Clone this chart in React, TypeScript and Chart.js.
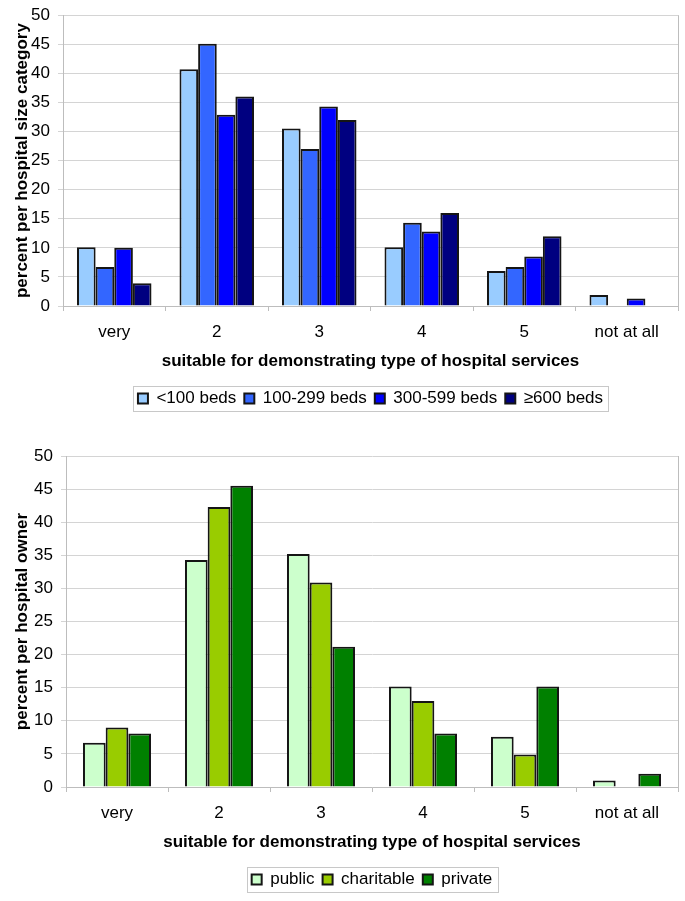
import React, { useEffect, useRef } from "react";
import { Chart, registerables } from "chart.js";

Chart.register(...registerables);

const categories = ["very", "2", "3", "4", "5", "not at all"];

const sizeLabels = ["<100 beds", "100-299 beds", "300-599 beds", "≥600 beds"];
const sizeLt100 = [10.1, 40.7, 30.5, 10.1, 6.0, 1.9];
const size100to299 = [6.7, 45.1, 27.0, 14.3, 6.7, null];
const size300to599 = [10.0, 32.9, 34.3, 12.8, 8.5, 1.3];
const sizeGe600 = [3.9, 36.0, 32.0, 16.0, 12.0, null];
const sizeColors = ["#99CCFF", "#3366FF", "#0000FF", "#000080"];

const ownerLabels = ["public", "charitable", "private"];
const ownerPublic = [6.7, 34.3, 35.2, 15.2, 7.6, 1.0];
const ownerCharitable = [9.0, 42.3, 30.9, 13.0, 4.9, null];
const ownerPrivate = [8.1, 45.5, 21.2, 8.1, 15.2, 2.0];
const ownerColors = ["#CCFFCC", "#99CC00", "#008000"];

const xTitle = "suitable for demonstrating type of hospital services";
const yTitleSize = "percent per hospital size category";
const yTitleOwner = "percent per hospital owner";

const FONT = "'Liberation Sans', Arial, sans-serif";
const GRID = "#d4d4d4";
const AXIS = "#bdbdbd";

const framePlugin = {
  id: "frame",
  afterLayout(chart: any) {
    const lg = chart.legend;
    const ca = chart.chartArea;
    if (lg && ca) {
      const shift = (ca.left + ca.right) / 2 - (lg.left + lg.right) / 2;
      lg.left += shift;
      lg.right += shift;
    }
  },
  afterDraw(chart: any) {
    const { ctx, chartArea } = chart;
    ctx.save();
    ctx.strokeStyle = AXIS;
    ctx.lineWidth = 1;
    ctx.beginPath();
    ctx.moveTo(Math.round(chartArea.right) + 0.5, chartArea.top);
    ctx.lineTo(Math.round(chartArea.right) + 0.5, chartArea.bottom);
    ctx.stroke();
    const boxes = chart.legend && chart.legend.legendHitBoxes;
    if (boxes && boxes.length) {
      let l = Infinity, r = -Infinity, t = Infinity, b = -Infinity;
      for (const h of boxes) {
        l = Math.min(l, h.left);
        r = Math.max(r, h.left + h.width);
        t = Math.min(t, h.top);
        b = Math.max(b, h.top + h.height);
      }
      ctx.strokeStyle = "#c8c8c8";
      ctx.strokeRect(Math.round(l - 5) + 0.5, Math.round(t - 4) + 0.5, Math.round(r - l + 10), Math.round(b - t + 8));
    }
    ctx.restore();
  },
};

type Props = {
  labels: string[];
  series: (number | null)[][];
  colors: string[];
  yTitle: string;
  height: number;
  offsetTop: number;
  padTop: number;
  padBottom: number;
  yWidth: number;
  catPct: number;
};

function BarChart(p: Props) {
  const ref = useRef<HTMLCanvasElement | null>(null);
  useEffect(() => {
    if (!ref.current) return;
    const chart = new Chart(ref.current, {
      type: "bar",
      data: {
        labels: categories,
        datasets: p.series.map((d, i) => ({
          label: p.labels[i],
          data: d,
          backgroundColor: p.colors[i],
          borderColor: "#151515",
          borderWidth: 2,
          barPercentage: 1,
          categoryPercentage: p.catPct,
        })),
      },
      options: {
        animation: false,
        responsive: false,
        devicePixelRatio: 1,
        layout: { padding: { left: 12, right: 7, top: p.padTop, bottom: p.padBottom } },
        plugins: {
          tooltip: { enabled: false },
          legend: {
            position: "bottom",
            labels: {
              boxWidth: 10,
              boxHeight: 10,
              padding: 8,
              color: "#000",
              font: { family: FONT, size: 17 },
            },
          },
        },
        scales: {
          x: {
            grid: { display: true, drawOnChartArea: false, drawTicks: true, tickLength: 5, color: AXIS, offset: true },
            border: { display: true, color: AXIS },
            ticks: { color: "#000", padding: 10.8, font: { family: FONT, size: 17 }, maxRotation: 0 },
            title: {
              display: true,
              text: xTitle,
              color: "#000",
              padding: { top: 0, bottom: 10.8 },
              font: { family: FONT, size: 17, weight: "bold" },
            },
            afterFit(scale: any) {
              scale.height = 76;
            },
          },
          y: {
            min: 0,
            max: 50,
            ticks: { stepSize: 5, color: "#000", padding: 8, font: { family: FONT, size: 17 } },
            grid: { color: GRID, tickLength: 5 },
            border: { display: true, color: AXIS },
            title: {
              display: true,
              text: p.yTitle,
              color: "#000",
              padding: { top: 0, bottom: 0 },
              font: { family: FONT, size: 17, weight: "bold" },
            },
            afterFit(scale: any) {
              scale.width = p.yWidth;
            },
          },
        },
      },
      plugins: [framePlugin],
    } as any);
    return () => chart.destroy();
  }, []);
  return (
    <canvas
      ref={ref}
      width={685}
      height={p.height}
      style={{ display: "block", marginTop: p.offsetTop }}
    />
  );
}

export default function App() {
  return (
    <div style={{ position: "absolute", left: 0, top: 0, width: 685, height: 901, background: "#fff", overflow: "hidden" }}>
      <BarChart
        labels={sizeLabels}
        series={[sizeLt100, size100to299, size300to599, sizeGe600]}
        colors={sizeColors}
        yTitle={yTitleSize}
        height={433}
        offsetTop={-3}
        padTop={12}
        padBottom={13}
        yWidth={51}
        catPct={0.727}
      />
      <BarChart
        labels={ownerLabels}
        series={[ownerPublic, ownerCharitable, ownerPrivate]}
        colors={ownerColors}
        yTitle={yTitleOwner}
        height={471}
        offsetTop={0}
        padTop={26}
        padBottom={3}
        yWidth={54}
        catPct={0.667}
      />
    </div>
  );
}
